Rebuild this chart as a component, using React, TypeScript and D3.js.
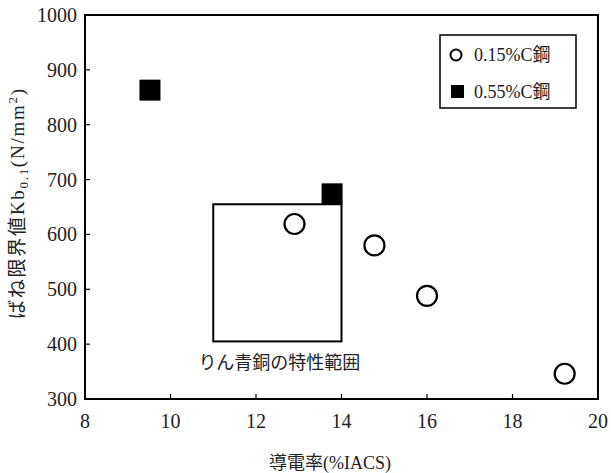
import React from 'react';
import * as d3 from 'd3';

// 0.15%C steel (open circles)
const lowCarbonX = [12.9, 14.77, 16.0, 19.22];
const lowCarbonY = [619, 580, 488, 346];
// 0.55%C steel (filled squares)
const highCarbonX = [9.52, 13.78];
const highCarbonY = [863, 674];
// phosphor bronze range
const bronzeX = [11, 14];
const bronzeY = [405, 655];

const xTicks = [8, 10, 12, 14, 16, 18, 20];
const yTicks = [300, 400, 500, 600, 700, 800, 900, 1000];
const legendLabels = ['0.15%C鋼', '0.55%C鋼'];

const FONT = '"Liberation Serif", "DejaVu Serif", "Noto Sans CJK JP", serif';

const App = () => {
  const w = 611;
  const h = 473;
  const m = { left: 85, right: 13, top: 15, bottom: 74 };

  const x = d3.scaleLinear().domain([8, 20]).range([m.left, w - m.right]);
  const y = d3.scaleLinear().domain([300, 1000]).range([h - m.bottom, m.top]);

  const r = 10;
  const sq = 21;

  return (
    <svg width={w} height={h} style={{ position: 'absolute', left: 0, top: 0, background: '#fff' }} fontFamily={FONT}>
      {/* frame */}
      <rect x={x(8)} y={y(1000)} width={x(20) - x(8)} height={y(300) - y(1000)}
        fill="none" stroke="#000" strokeWidth={2} />

      {/* ticks */}
      {xTicks.slice(1, -1).map(t => (
        <line key={'xt' + t} x1={x(t)} x2={x(t)} y1={y(300)} y2={y(300) - 5} stroke="#000" strokeWidth={1.2} />
      ))}
      {yTicks.slice(1, -1).map(t => (
        <line key={'yt' + t} x1={x(8)} x2={x(8) + 5} y1={y(t)} y2={y(t)} stroke="#000" strokeWidth={1.2} />
      ))}

      {/* tick labels */}
      {xTicks.map(t => (
        <text key={'xl' + t} x={x(t)} y={y(300) + 29} textAnchor="middle" fontSize={20} fill="#222">{t}</text>
      ))}
      {yTicks.map(t => (
        <text key={'yl' + t} x={x(8) - 8} y={y(t)} dy="0.35em" textAnchor="end" fontSize={20} fill="#222">{t}</text>
      ))}

      {/* axis titles */}
      <text x={330} y={469} textAnchor="middle" fontSize={18} fill="#222">導電率(%IACS)</text>
      <text transform={`translate(24,204) rotate(-90)`} textAnchor="middle" fontSize={19} fill="#222"
        textLength={230} lengthAdjust="spacing">
        ばね限界値Kb<tspan fontSize={13} dy={4}>0.1</tspan><tspan dy={-4}>(N/mm</tspan><tspan fontSize={13} dy={-7}>2</tspan><tspan dy={7}>)</tspan>
      </text>

      {/* phosphor bronze range */}
      <rect x={x(bronzeX[0])} y={y(bronzeY[1])} width={x(bronzeX[1]) - x(bronzeX[0])}
        height={y(bronzeY[0]) - y(bronzeY[1])} fill="none" stroke="#000" strokeWidth={2} />
      <text x={(x(bronzeX[0]) + x(bronzeX[1])) / 2 + 2} y={y(bronzeY[0]) + 28} textAnchor="middle" fontSize={18} fill="#222">りん青銅の特性範囲</text>

      {/* data */}
      {highCarbonX.map((v, i) => (
        <rect key={'s' + i} x={x(v) - sq / 2} y={y(highCarbonY[i]) - sq / 2} width={sq} height={sq} fill="#000" />
      ))}
      {lowCarbonX.map((v, i) => (
        <circle key={'c' + i} cx={x(v)} cy={y(lowCarbonY[i])} r={r} fill="#fff" stroke="#000" strokeWidth={2.2} />
      ))}

      {/* legend */}
      <rect x={440} y={35} width={136} height={73} fill="#fff" stroke="#000" strokeWidth={1.5} />
      <circle cx={456} cy={55} r={5.5} fill="none" stroke="#000" strokeWidth={2} />
      <text x={474} y={55} dy="0.35em" fontSize={18} fill="#222">{legendLabels[0]}</text>
      <rect x={451} y={85} width={13} height={13} fill="#000" />
      <text x={474} y={92} dy="0.35em" fontSize={18} fill="#222">{legendLabels[1]}</text>
    </svg>
  );
};

export default App;
